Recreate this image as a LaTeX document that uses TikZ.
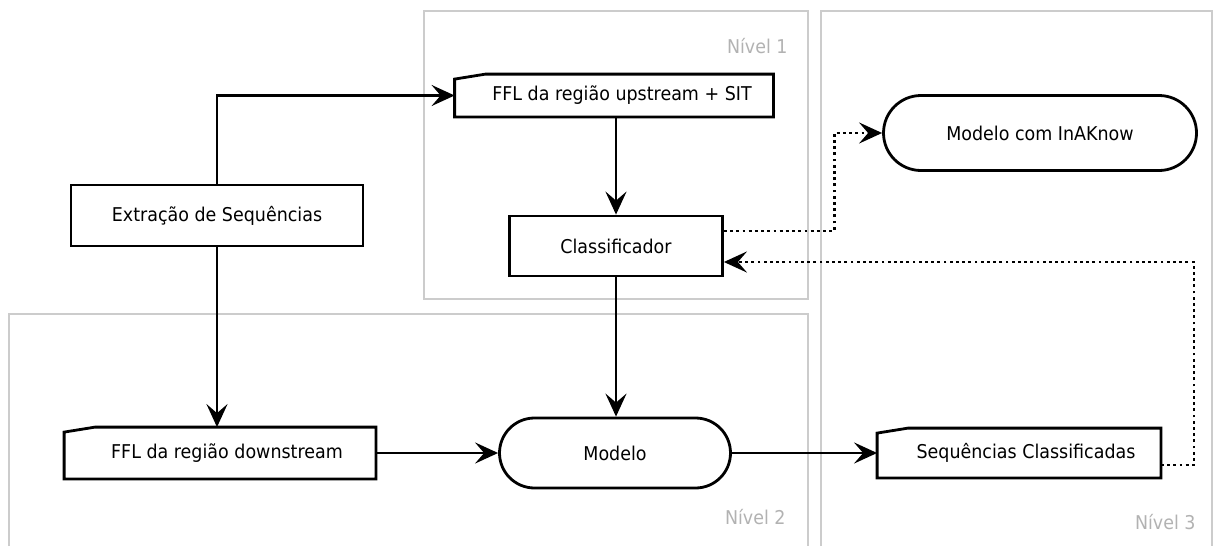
\documentclass[tikz,border=0pt]{standalone}
\usepackage{fontspec}
\setmainfont{DejaVu Sans}[FakeStretch=0.92]
\usetikzlibrary{arrows.meta,shapes.misc}

\begin{document}
\begin{tikzpicture}[x=1pt,y=-1pt,line width=2.8pt,
  every node/.style={font=\fontsize{19}{23}\selectfont},
  proc/.style={draw,rectangle,inner sep=0pt},
  slant/.style={rectangle,inner sep=0pt},
  term/.style={draw,rounded rectangle,inner sep=0pt},
  flow/.style={-{Stealth[length=23pt,width=21pt,inset=9pt]}},
  back/.style={flow,dash pattern=on 2.8pt off 3.4pt},
  frame/.style={draw=black!20,line width=2.2pt},
  level/.style={text=black!30,anchor=east,inner sep=0pt}]
\useasboundingbox (0,0) rectangle (1214,546);

\draw[frame] (424,11) rectangle (808,299);
\draw[frame] (9,546) -- (9,314) -- (808,314) -- (808,546);
\draw[frame] (821,546) -- (821,11) -- (1212,11) -- (1212,546);
\node[level] (lv1) at (789,46) {Nível 1};
\node[level] (lv2) at (787,517) {Nível 2};
\node[level] (lv3) at (1197,522) {Nível 3};

\node[proc,minimum width=292pt,minimum height=61pt] (ext) at (217,215.5) {Extração de Sequências};
\node[slant,minimum width=316pt,minimum height=40pt] (up) at (614,95.5) {\hspace*{16pt}FFL da região upstream + SIT};
\node[proc,minimum width=213pt,minimum height=60pt] (cls) at (616,246) {Classificador};
\node[term,minimum width=313pt,minimum height=75pt] (inak) at (1040,133) {Modelo com InAKnow};
\node[slant,minimum width=309pt,minimum height=49pt] (down) at (220,453) {\hspace*{14pt}FFL da região downstream};
\node[term,minimum width=231pt,minimum height=70pt] (mod) at (615,453) {Modelo};
\node[slant,minimum width=281pt,minimum height=47pt] (seq) at (1019,453) {\hspace*{14pt}Sequências Classificadas};
\foreach \n in {up,down,seq}
  \draw (\n.south west) -- ([yshift=-5pt]\n.north west) -- ([xshift=31pt]\n.north west) -- (\n.north east) -- (\n.south east) -- cycle;

\draw[flow] (ext.north) |- (up.west);
\draw[flow] (ext.south) -- (ext.south |- down.north);
\draw[flow] (up.south -| cls.north) -- (cls.north);
\draw[flow] (cls.south) -- (cls.south |- mod.north);
\draw[flow] (down.east) -- (mod.west);
\draw[flow] (mod.east) -- (seq.west);
\draw[back] ([yshift=15pt]cls.east) -| ([xshift=-48pt]inak.west) -- (inak.west);
\draw[back] ([yshift=-12pt]seq.east) -- ++(33,0) |- ([yshift=-16pt]cls.east);
\end{tikzpicture}
\end{document}
